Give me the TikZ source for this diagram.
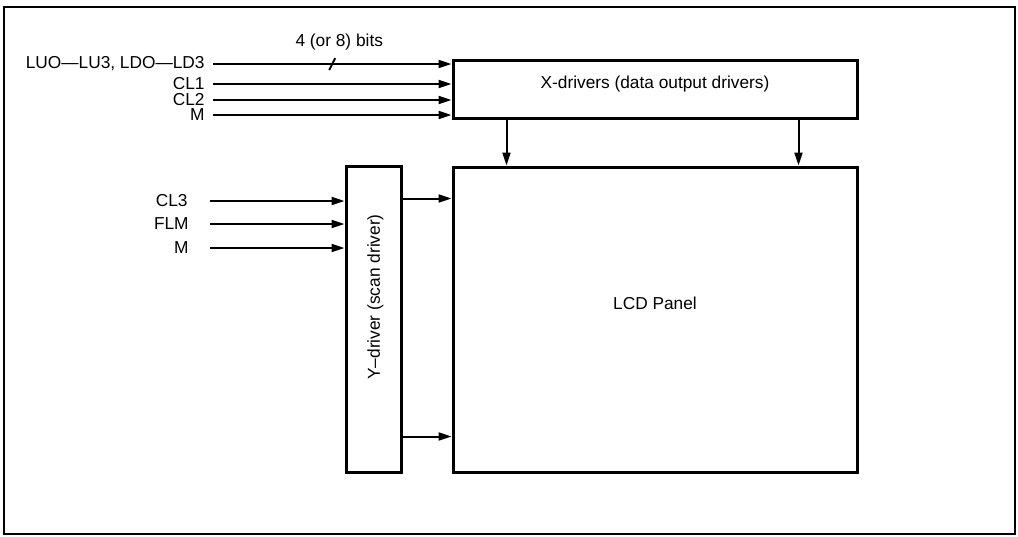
\documentclass[tikz,border=0pt]{standalone}
\usepackage{fontspec}
\setmainfont{Liberation Sans}
\usetikzlibrary{arrows.meta,positioning}

\tikzset{
  block/.style={draw, line width=1.5pt, shape=rectangle, inner sep=0pt},
  lbl/.style={font=\fontsize{8.65}{10}\selectfont, inner sep=0pt},
  sig/.style={line width=1pt, -{Triangle[length=6.5pt,width=4pt]}},
}

\begin{document}
\begin{tikzpicture}[x=0.5pt, y=-0.5pt]
\useasboundingbox (0,0) rectangle (1018,536);
\draw[line width=1pt] (4,7) rectangle (1015,534);

% drivers and panel
\node[block, minimum width=202pt, minimum height=29pt] (xdrv) at (655,89) {};
\node[block, minimum width=202pt, minimum height=152.5pt] (lcd) at (655,319.5) {};
\node[block, minimum width=27.5pt, minimum height=153pt] (ydrv) at (373.5,319) {};
\node[lbl] (xtxt) at ([yshift=2.5pt]xdrv.center) {X-drivers (data output drivers)};
\node[lbl] (lcdtxt) at ([yshift=8pt]lcd.center) {LCD Panel};
\node[lbl, rotate=90] (ytxt) at ([xshift=1pt,yshift=11pt]ydrv.center) {Y–driver (scan driver)};

% X inputs
\node[lbl, anchor=east] (lu) at (205,64) {LUO—LU3, LDO—LD3};
\node[lbl, anchor=east] (cl1) at (205,84) {CL1};
\node[lbl, anchor=east] (cl2) at (205,100) {CL2};
\node[lbl, anchor=east] (mx) at (205,115) {M};
\draw[sig] ([xshift=4pt]lu.east) -- coordinate[pos=0.5] (bus) (lu -| xdrv.west);
\draw[line width=1pt] ([shift={(-1.5pt,-3pt)}]bus) -- ([shift={(1.5pt,3pt)}]bus);
\node[lbl, above=7pt of bus, xshift=3.5pt] (bits) {4 (or 8) bits};
\draw[sig] ([xshift=4pt]cl1.east) -- (cl1 -| xdrv.west);
\draw[sig] ([xshift=4pt]cl2.east) -- (cl2 -| xdrv.west);
\draw[sig] ([xshift=4pt]mx.east) -- (mx -| xdrv.west);

% Y inputs
\node[lbl, anchor=east] (cl3) at (188,201) {CL3};
\node[lbl, anchor=east] (flm) at (189,224) {FLM};
\node[lbl, anchor=east] (my) at (189,248) {M};
\draw[sig] ([xshift=11pt]cl3.east) -- (cl3 -| ydrv.west);
\draw[sig] ([xshift=10.5pt]flm.east) -- (flm -| ydrv.west);
\draw[sig] ([xshift=10.5pt]my.east) -- (my -| ydrv.west);

% driver outputs
\coordinate (xa) at ([xshift=27.5pt]xdrv.south west);
\coordinate (xb) at ([xshift=-30pt]xdrv.south east);
\draw[sig] (xa) -- (xa |- lcd.north);
\draw[sig] (xb) -- (xb |- lcd.north);
\coordinate (ya) at ([yshift=-17pt]ydrv.north east);
\coordinate (yb) at ([yshift=18.5pt]ydrv.south east);
\draw[sig] (ya) -- (ya -| lcd.west);
\draw[sig] (yb) -- (yb -| lcd.west);
\end{tikzpicture}
\end{document}
